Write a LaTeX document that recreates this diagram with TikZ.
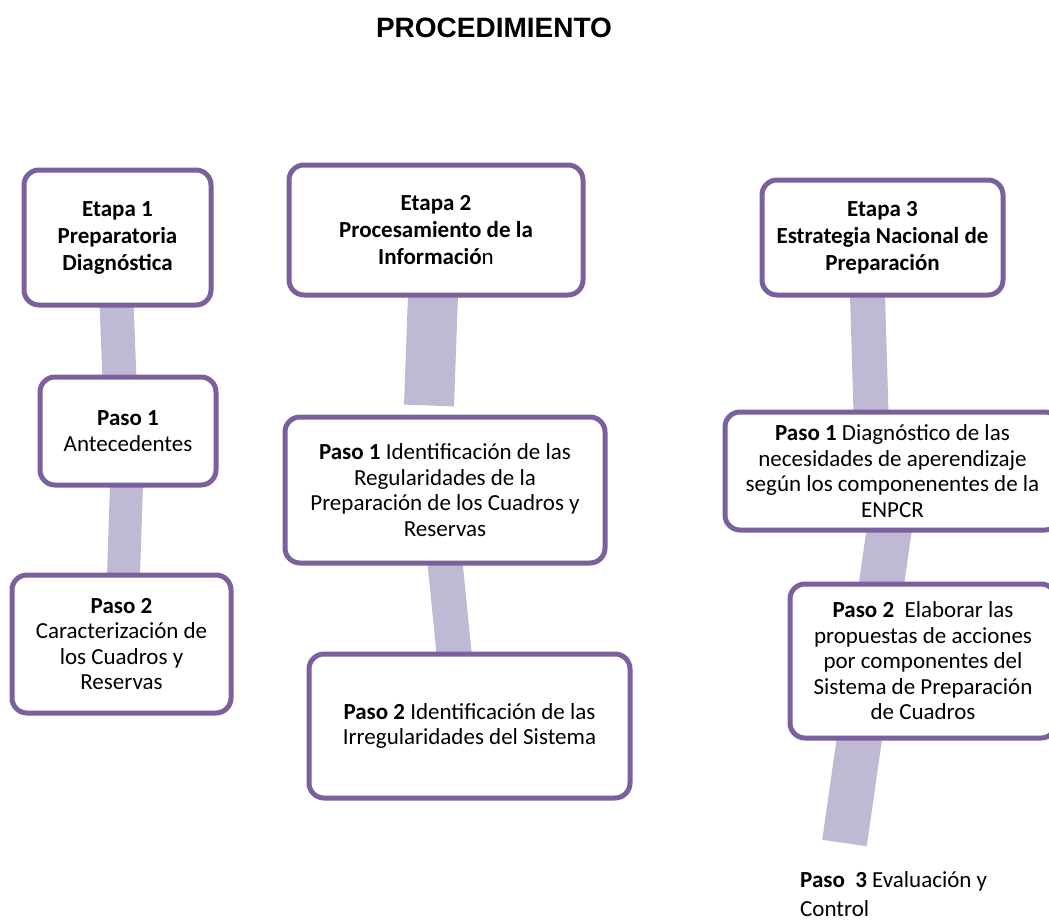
\documentclass[tikz,border=0pt]{standalone}
\usepackage{fontspec}
\setmainfont{Carlito}
\newfontfamily\arialfont{Liberation Sans}
\usetikzlibrary{calc,backgrounds}
\definecolor{boxc}{RGB}{124,96,158}
\definecolor{barc}{RGB}{191,185,211}
\tikzset{
  box/.style={draw=boxc, line width=5pt, rounded corners=15pt, fill=white,
    align=center, inner sep=0pt, font=\fontsize{23}{25.5}\selectfont},
  etapa/.style={box, font=\fontsize{23}{27}\selectfont\bfseries},
  bar/.style={draw=barc, line cap=butt},
}
\begin{document}
\begin{tikzpicture}[x=1pt,y=-1pt]
\useasboundingbox (0,0) rectangle (1049,923);
\clip (0,0) rectangle (1049,923);
\node[anchor=base, font=\arialfont\bfseries\fontsize{28}{32}\selectfont] (title) at (494,38) {PROCEDIMIENTO};

% Etapa 1
\node[etapa, minimum width=187pt, minimum height=135pt] (e1) at (117.5,237.5)
  {Etapa 1\\Preparatoria\\Diagnóstica};
\node[box, minimum width=176pt, minimum height=108pt] (e1p1) at (128,431)
  {\textbf{Paso 1}\\Antecedentes};
\node[box, minimum width=219pt, minimum height=138pt] (e1p2) at (121.5,644)
  {\textbf{Paso 2}\\Caracterización de\\los Cuadros y\\Reservas};

% Etapa 2
\node[etapa, minimum width=294pt, minimum height=130pt] (e2) at (436,230)
  {Etapa 2\\Procesamiento de la\\Informació\mdseries n};
\node[box, minimum width=320pt, minimum height=146pt] (e2p1) at (445,490)
  {\textbf{Paso 1} Identificación de las\\Regularidades de la\\Preparación de los Cuadros y\\Reservas};
\node[box, minimum width=321pt, minimum height=144pt] (e2p2) at (469.5,726)
  {\textbf{Paso 2} Identificación de las\\Irregularidades del Sistema};

% Etapa 3
\node[etapa, minimum width=241pt, minimum height=115pt] (e3) at (882.5,237.5)
  {Etapa 3\\Estrategia Nacional de\\Preparación};
\node[box, minimum width=335pt, minimum height=118pt] (e3p1) at (892.5,471)
  {\textbf{Paso 1} Diagnóstico de las\\necesidades de aperendizaje\\según los componenentes de la\\ENPCR};
\node[box, minimum width=266pt, minimum height=154pt] (e3p2) at (923,661)
  {\textbf{Paso 2}\ \ Elaborar las\\propuestas de acciones\\por componentes del\\Sistema de Preparación\\de Cuadros};
\coordinate (e3end) at (844.5,843);
\node[anchor=base west, align=left, inner sep=0pt, font=\fontsize{23}{28.3}\selectfont] (p3) at (800,916)
  {\textbf{Paso\ \ 3} Evaluación y\\Control};

\begin{pgfonlayer}{background}
\draw[bar, line width=34pt] ($(e1.south)+(-1,-5)$) -- ($(e1p1.north)+(-8.5,5)$);
\draw[bar, line width=33pt] ($(e1p1.south)+(-1.5,-3)$) -- ($(e1p2.north)+(2,3)$);
\draw[bar, line width=50pt] ($(e2.south)+(-3,-3)$) -- ($(e2p1.north)+(-16,-9)$);
\draw[bar, line width=35pt] ($(e2p1.south)+(0,-3)$) -- ($(e2p2.north)+(-15,6)$);
\draw[bar, line width=35pt] ($(e3.south)+(-15,-3)$) -- ($(e3p1.north)+(-21.5,3)$);
\draw[bar, line width=45pt] ($(e3p1.south)+(-3,-5)$) -- (e3end);
\end{pgfonlayer}
\end{tikzpicture}
\end{document}
